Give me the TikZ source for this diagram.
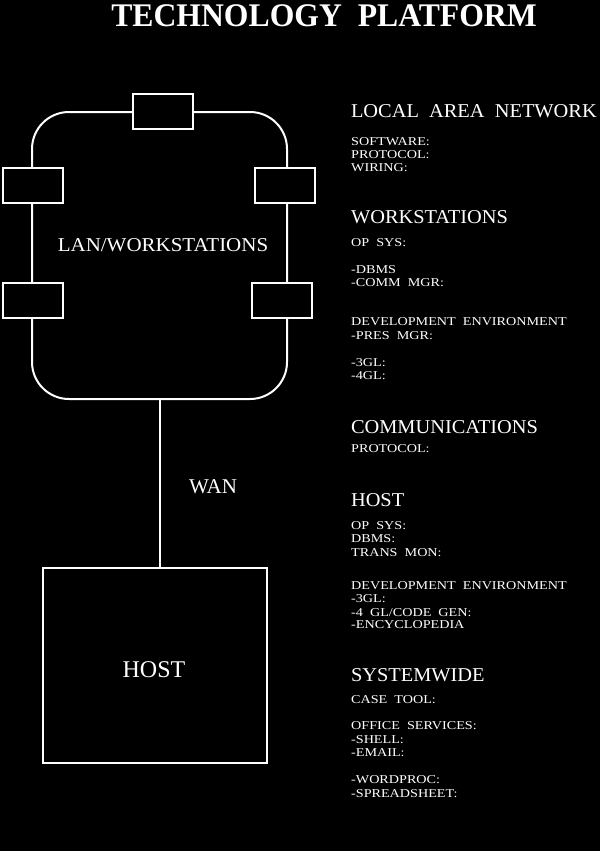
\documentclass[tikz,border=0pt]{standalone}
\usepackage{fontspec}
\setmainfont{Liberation Serif}
\begin{document}
\begin{tikzpicture}[x=1pt,y=-1pt,
  line width=2pt,
  wire/.style={draw=white, line width=2pt},
  wsbox/.style={draw=white, fill=black, line width=2pt, rectangle, minimum width=60pt, minimum height=35pt, inner sep=0pt},
  loopbox/.style={draw=white, line width=2pt, rectangle, rounded corners=37pt, minimum width=255pt, minimum height=287pt, inner sep=0pt},
  hostbox/.style={draw=white, line width=2pt, rectangle, minimum width=224pt, minimum height=195pt, inner sep=0pt},
  title/.style={text=white, font=\fontsize{33}{36}\selectfont\bfseries, inner sep=0pt, anchor=base, xscale=0.96},
  biglabel/.style={text=white, font=\fontsize{19.6}{22}\selectfont, inner sep=0pt, anchor=base, xscale=1.07},
  head/.style={text=white, font=\fontsize{19.6}{22}\selectfont, inner sep=0pt, anchor=base west, xscale=1.04},
  small/.style={text=white, font=\fontsize{12}{13.3}\selectfont, inner sep=0pt, anchor=base west, xscale=1.18, align=left}
]
\fill[black] (0,0) rectangle (600,851);
\useasboundingbox (0,0) rectangle (600,851);

\node[title] (ttl) at (324,27) {TECHNOLOGY\ \ PLATFORM};

% LAN loop
\node[loopbox] (lan) at (159.5,255.5) {};
\node[wsbox] (wtop) at (163,111.5) {};
\node[wsbox] (wlu) at (33,185.5) {};
\node[wsbox] (wru) at (285,185.5) {};
\node[wsbox] (wll) at (32.5,300) {};
\node[wsbox] (wrl) at (282,300) {};
\node[biglabel] (lanlbl) at (163,251) {LAN/WORKSTATIONS};

% host
\node[hostbox] (host) at (155,665.5) {};
\node[text=white, font=\fontsize{24}{26}\selectfont, inner sep=0pt, anchor=base] (hostlbl) at (154,677) {HOST};
\draw[wire] (lan.south) -- (lan.south |- host.north);
\node[text=white, font=\fontsize{21}{24}\selectfont, inner sep=0pt, anchor=base] (wan) at (213,493) {WAN};

% right column
\node[head] (h1) at (350,117) {LOCAL\ \ AREA\ \ NETWORK};
\node[small] (t1) at (350,145) {SOFTWARE:};
\node[small] (t2) at (350,158) {PROTOCOL:};
\node[small] (t3) at (350,171) {WIRING:};

\node[head] (h2) at (350,223) {WORKSTATIONS};
\node[small] (t4) at (350,246) {OP\ \ SYS:};
\node[small] (t5) at (350,273) {-DBMS};
\node[small] (t6) at (350,286) {-COMM\ \ MGR:};
\node[small] (t7) at (350,325) {DEVELOPMENT\ \ ENVIRONMENT};
\node[small] (t8) at (350,339) {-PRES\ \ MGR:};
\node[small] (t9) at (350,366) {-3GL:};
\node[small] (t10) at (350,379) {-4GL:};

\node[head] (h3) at (350,433) {COMMUNICATIONS};
\node[small] (t11) at (350,452) {PROTOCOL:};

\node[head] (h4) at (350,506) {HOST};
\node[small] (t12) at (350,529) {OP\ \ SYS:};
\node[small] (t13) at (350,542) {DBMS:};
\node[small] (t14) at (350,556) {TRANS\ \ MON:};
\node[small] (t15) at (350,589) {DEVELOPMENT\ \ ENVIRONMENT};
\node[small] (t16) at (350,602) {-3GL:};
\node[small] (t17) at (350,616) {-4\ \ GL/CODE\ \ GEN:};
\node[small] (t18) at (350,628) {-ENCYCLOPEDIA};

\node[head] (h5) at (350,681) {SYSTEMWIDE};
\node[small] (t19) at (350,703) {CASE\ \ TOOL:};
\node[small] (t20) at (350,729) {OFFICE\ \ SERVICES:};
\node[small] (t21) at (350,743) {-SHELL:};
\node[small] (t22) at (350,756) {-EMAIL:};
\node[small] (t23) at (350,783) {-WORDPROC:};
\node[small] (t24) at (350,797) {-SPREADSHEET:};
\end{tikzpicture}
\end{document}
